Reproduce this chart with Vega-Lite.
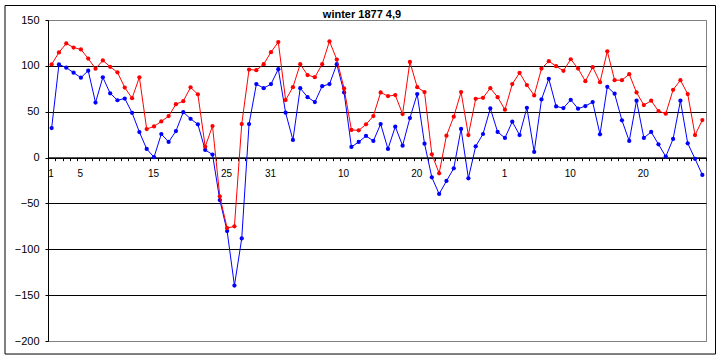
{
  "$schema": "https://vega.github.io/schema/vega-lite/v6.json",
  "width": 658,
  "height": 321,
  "autosize": {"type": "none"},
  "padding": {"left": 48, "top": 20, "right": 16, "bottom": 19},
  "background": "white",
  "config": {"view": {"stroke": "#808080", "strokeWidth": 1}},
  "title": {"text": "winter 1877 4,9", "font": "Liberation Sans", "fontSize": 11, "fontWeight": "bold", "color": "#000000", "offset": -14.5, "dx": -15, "anchor": "middle"},
  "resolve": {"axis": {"x": "independent"}},
  "data": {"values": [
    {"i":0,"month":"Dec","day":1,"red":101.6,"blue":32.2},
    {"i":1,"month":"Dec","day":2,"red":114.6,"blue":101.6},
    {"i":2,"month":"Dec","day":3,"red":124.4,"blue":98},
    {"i":3,"month":"Dec","day":4,"red":120,"blue":92.6},
    {"i":4,"month":"Dec","day":5,"red":117.9,"blue":87.1},
    {"i":5,"month":"Dec","day":6,"red":108,"blue":94.7},
    {"i":6,"month":"Dec","day":7,"red":96.9,"blue":60},
    {"i":7,"month":"Dec","day":8,"red":105.9,"blue":87.5},
    {"i":8,"month":"Dec","day":9,"red":99,"blue":70.1},
    {"i":9,"month":"Dec","day":10,"red":92.9,"blue":62.5},
    {"i":10,"month":"Dec","day":11,"red":76.3,"blue":64.4},
    {"i":11,"month":"Dec","day":12,"red":64.7,"blue":48.8},
    {"i":12,"month":"Dec","day":13,"red":87.5,"blue":27.8},
    {"i":13,"month":"Dec","day":14,"red":31.1,"blue":9.4},
    {"i":14,"month":"Dec","day":15,"red":34,"blue":0.4},
    {"i":15,"month":"Dec","day":16,"red":39.4,"blue":25.7},
    {"i":16,"month":"Dec","day":17,"red":45.2,"blue":17},
    {"i":17,"month":"Dec","day":18,"red":58.2,"blue":28.9},
    {"i":18,"month":"Dec","day":19,"red":61.5,"blue":49.5},
    {"i":19,"month":"Dec","day":20,"red":76.6,"blue":42.3},
    {"i":20,"month":"Dec","day":21,"red":69,"blue":36.2},
    {"i":21,"month":"Dec","day":22,"red":11.9,"blue":8.3},
    {"i":22,"month":"Dec","day":23,"red":34.3,"blue":3.3},
    {"i":23,"month":"Dec","day":24,"red":-42.3,"blue":-46.3},
    {"i":24,"month":"Dec","day":25,"red":-76.9,"blue":-80.1},
    {"i":25,"month":"Dec","day":26,"red":-75,"blue":-139.5},
    {"i":26,"month":"Dec","day":27,"red":36.6,"blue":-88.2},
    {"i":27,"month":"Dec","day":28,"red":96,"blue":36.6},
    {"i":28,"month":"Dec","day":29,"red":95.3,"blue":80.1},
    {"i":29,"month":"Dec","day":30,"red":101.8,"blue":75.7},
    {"i":30,"month":"Dec","day":31,"red":114.9,"blue":80.1},
    {"i":31,"month":"Jan","day":1,"red":126,"blue":96.4},
    {"i":32,"month":"Jan","day":2,"red":62.7,"blue":48.9},
    {"i":33,"month":"Jan","day":3,"red":76.8,"blue":19.2},
    {"i":34,"month":"Jan","day":4,"red":101.8,"blue":75.7},
    {"i":35,"month":"Jan","day":5,"red":89.9,"blue":65.9},
    {"i":36,"month":"Jan","day":6,"red":87.7,"blue":60.5},
    {"i":37,"month":"Jan","day":7,"red":101.8,"blue":77.9},
    {"i":38,"month":"Jan","day":8,"red":126.8,"blue":80.1},
    {"i":39,"month":"Jan","day":9,"red":106.9,"blue":101.8},
    {"i":40,"month":"Jan","day":10,"red":75.4,"blue":71},
    {"i":41,"month":"Jan","day":11,"red":30.1,"blue":11.6},
    {"i":42,"month":"Jan","day":12,"red":29.7,"blue":17},
    {"i":43,"month":"Jan","day":13,"red":36.2,"blue":23.6},
    {"i":44,"month":"Jan","day":14,"red":45.3,"blue":18.1},
    {"i":45,"month":"Jan","day":15,"red":71,"blue":36.6},
    {"i":46,"month":"Jan","day":16,"red":67,"blue":9.4},
    {"i":47,"month":"Jan","day":17,"red":68.1,"blue":33.7},
    {"i":48,"month":"Jan","day":18,"red":47.5,"blue":13},
    {"i":49,"month":"Jan","day":19,"red":104.3,"blue":43.1},
    {"i":50,"month":"Jan","day":20,"red":76.8,"blue":69.2},
    {"i":51,"month":"Jan","day":21,"red":71.4,"blue":15.2},
    {"i":52,"month":"Jan","day":22,"red":3.6,"blue":-21.5},
    {"i":53,"month":"Jan","day":23,"red":-17.1,"blue":-39.7},
    {"i":54,"month":"Jan","day":24,"red":23.9,"blue":-25.5},
    {"i":55,"month":"Jan","day":25,"red":44.6,"blue":-11.7},
    {"i":56,"month":"Jan","day":26,"red":71.4,"blue":31.2},
    {"i":57,"month":"Jan","day":27,"red":24.6,"blue":-22.6},
    {"i":58,"month":"Jan","day":28,"red":64.1,"blue":12.3},
    {"i":59,"month":"Jan","day":29,"red":65.2,"blue":25.7},
    {"i":60,"month":"Jan","day":30,"red":75.7,"blue":53.6},
    {"i":61,"month":"Jan","day":31,"red":65.9,"blue":27.9},
    {"i":62,"month":"Feb","day":1,"red":52.2,"blue":21.4},
    {"i":63,"month":"Feb","day":2,"red":80.1,"blue":39.1},
    {"i":64,"month":"Feb","day":3,"red":92.4,"blue":24.6},
    {"i":65,"month":"Feb","day":4,"red":79,"blue":54.3},
    {"i":66,"month":"Feb","day":5,"red":67.8,"blue":6.2},
    {"i":67,"month":"Feb","day":6,"red":97.1,"blue":63.4},
    {"i":68,"month":"Feb","day":7,"red":105.1,"blue":85.9},
    {"i":69,"month":"Feb","day":8,"red":99.6,"blue":55.8},
    {"i":70,"month":"Feb","day":9,"red":94.6,"blue":54},
    {"i":71,"month":"Feb","day":10,"red":107.2,"blue":63},
    {"i":72,"month":"Feb","day":11,"red":97.1,"blue":53.3},
    {"i":73,"month":"Feb","day":12,"red":83.3,"blue":56.2},
    {"i":74,"month":"Feb","day":13,"red":98.6,"blue":60.5},
    {"i":75,"month":"Feb","day":14,"red":82.2,"blue":25.4},
    {"i":76,"month":"Feb","day":15,"red":115.9,"blue":77.2},
    {"i":77,"month":"Feb","day":16,"red":84.4,"blue":69.6},
    {"i":78,"month":"Feb","day":17,"red":84.4,"blue":40.6},
    {"i":79,"month":"Feb","day":18,"red":90.9,"blue":18.1},
    {"i":80,"month":"Feb","day":19,"red":71,"blue":62},
    {"i":81,"month":"Feb","day":20,"red":57.2,"blue":21.4},
    {"i":82,"month":"Feb","day":21,"red":62,"blue":27.9},
    {"i":83,"month":"Feb","day":22,"red":50.7,"blue":14.5},
    {"i":84,"month":"Feb","day":23,"red":47.8,"blue":1.1},
    {"i":85,"month":"Feb","day":24,"red":73.9,"blue":20.3},
    {"i":86,"month":"Feb","day":25,"red":84.4,"blue":62},
    {"i":87,"month":"Feb","day":26,"red":69.2,"blue":15.6},
    {"i":88,"month":"Feb","day":27,"red":24.6,"blue":-1.4},
    {"i":89,"month":"Feb","day":28,"red":40.9,"blue":-18.9}
  ]},
  "layer": [
    {
      "mark": {"type": "line", "color": "#0000FF", "strokeWidth": 1, "point": {"filled": true, "size": 18, "color": "#0000FF"}},
      "encoding": {
        "x": {"field": "i", "type": "quantitative", "scale": {"domain": [-0.5, 89.5], "nice": false, "zero": false},
          "axis": {
            "title": null, "grid": false, "orient": "bottom", "offset": -183.43, "domain": false, "ticks": false,
            "values": [0, 4, 14, 24, 30, 40, 50, 62, 71, 81],
            "labelExpr": "'' + (datum.value < 31 ? datum.value + 1 : (datum.value < 62 ? datum.value - 30 : datum.value - 61))",
            "labelOffset": -1, "labelPadding": 11, "labelFont": "Liberation Sans", "labelFontSize": 10, "labelColor": "#000000",
            "labelOverlap": false, "labelFlush": false, "labelBound": false
          }
        },
        "y": {"field": "blue", "type": "quantitative", "scale": {"domain": [-200, 150], "nice": false, "zero": false},
          "axis": {
            "title": null, "values": [150, 100, 50, 0, -50, -100, -150, -200], "grid": true,
            "gridColor": {"condition": {"test": "datum.value == 150 || datum.value == -200", "value": "#808080"}, "value": "#000000"},
            "gridOpacity": 1, "domainColor": "#000000", "tickColor": "#000000", "tickSize": 3,
            "labelFont": "Liberation Sans", "labelFontSize": 11, "labelColor": "#000000", "labelPadding": 6, "labelFlush": false
          }
        }
      }
    },
    {
      "mark": {"type": "line", "color": "#FF0000", "strokeWidth": 1, "point": {"filled": true, "size": 18, "color": "#FF0000"}},
      "encoding": {
        "x": {"field": "i", "type": "quantitative",
          "axis": {
            "title": null, "grid": false, "orient": "bottom", "offset": -183.43, "labels": false,
            "values": [-0.5,0.5,1.5,2.5,3.5,4.5,5.5,6.5,7.5,8.5,9.5,10.5,11.5,12.5,13.5,14.5,15.5,16.5,17.5,18.5,19.5,20.5,21.5,22.5,23.5,24.5,25.5,26.5,27.5,28.5,29.5,30.5,31.5,32.5,33.5,34.5,35.5,36.5,37.5,38.5,39.5,40.5,41.5,42.5,43.5,44.5,45.5,46.5,47.5,48.5,49.5,50.5,51.5,52.5,53.5,54.5,55.5,56.5,57.5,58.5,59.5,60.5,61.5,62.5,63.5,64.5,65.5,66.5,67.5,68.5,69.5,70.5,71.5,72.5,73.5,74.5,75.5,76.5,77.5,78.5,79.5,80.5,81.5,82.5,83.5,84.5,85.5,86.5,87.5,88.5,89.5],
            "tickSize": 3, "tickColor": "#000000", "domainColor": "#000000"
          }
        },
        "y": {"field": "red", "type": "quantitative"}
      }
    },
    {
      "data": {"values": [{}]},
      "mark": {"type": "rect", "fill": null, "stroke": "#000000", "strokeWidth": 1, "clip": false},
      "encoding": {
        "x": {"datum": -6.38, "type": "quantitative",
          "axis": {
            "title": null, "grid": false, "orient": "bottom", "offset": -183.43, "labels": false,
            "values": [-0.5,0.5,1.5,2.5,3.5,4.5,5.5,6.5,7.5,8.5,9.5,10.5,11.5,12.5,13.5,14.5,15.5,16.5,17.5,18.5,19.5,20.5,21.5,22.5,23.5,24.5,25.5,26.5,27.5,28.5,29.5,30.5,31.5,32.5,33.5,34.5,35.5,36.5,37.5,38.5,39.5,40.5,41.5,42.5,43.5,44.5,45.5,46.5,47.5,48.5,49.5,50.5,51.5,52.5,53.5,54.5,55.5,56.5,57.5,58.5,59.5,60.5,61.5,62.5,63.5,64.5,65.5,66.5,67.5,68.5,69.5,70.5,71.5,72.5,73.5,74.5,75.5,76.5,77.5,78.5,79.5,80.5,81.5,82.5,83.5,84.5,85.5,86.5,87.5,88.5,89.5],
            "tickSize": 3, "tickColor": "#000000", "domainColor": "#000000"
          }
        },
        "x2": {"datum": 90.8},
        "y": {"datum": 165.8, "type": "quantitative"},
        "y2": {"datum": -214.2}
      }
    }
  ]
}
